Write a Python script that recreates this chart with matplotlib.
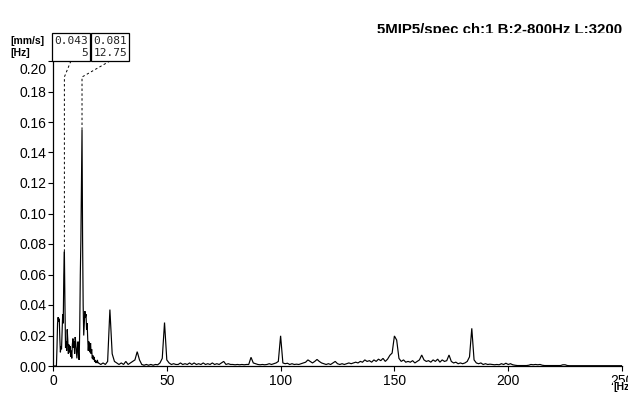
import numpy as np
import matplotlib
matplotlib.use("Agg")
import matplotlib.pyplot as plt
from matplotlib.patches import Rectangle
from matplotlib.transforms import Bbox, TransformedBbox

# ---------------- data ----------------
title = "5MIP5/spec ch:1 B:2-800Hz L:3200"
y_unit = "[mm/s]"
x_unit = "[Hz]"

# 0 .. 20 Hz, 0.25 Hz resolution
freq_low = np.arange(0, 20.001, 0.25)
amp_low = [
    0.000, 0.000, 0.000, 0.000, 0.000, 0.000,                      # 0 - 1.25
    0.000, 0.012, 0.028, 0.032, 0.029, 0.031, 0.018, 0.009,        # 1.5 - 3.25
    0.013, 0.011, 0.022, 0.034, 0.028, 0.060, 0.075, 0.040,        # 3.5 - 5.25
    0.012, 0.016, 0.010, 0.024, 0.017, 0.008, 0.014, 0.009,        # 5.5 - 7.25
    0.013, 0.006, 0.010, 0.005, 0.014, 0.018, 0.012, 0.016,        # 7.5 - 9.25
    0.008, 0.019, 0.015, 0.010, 0.005, 0.012, 0.016, 0.006,        # 9.5 - 11.25
    0.004, 0.025, 0.060, 0.083, 0.120, 0.155, 0.083, 0.040,        # 11.5 - 13.25
    0.020, 0.028, 0.036, 0.032, 0.034, 0.024, 0.028, 0.018,        # 13.5 - 15.25
    0.010, 0.016, 0.012, 0.009, 0.015, 0.008, 0.011, 0.005,        # 15.5 - 17.25
    0.007, 0.004, 0.006, 0.003, 0.004, 0.002, 0.003, 0.002,        # 17.5 - 19.25
    0.004, 0.002, 0.002,                                           # 19.5 - 20.0
]

# 21 .. 250 Hz, 1 Hz steps
freq_high = np.arange(21, 251, 1)
amp_high = [
    0.0010, 0.0020, 0.0010, 0.0030, 0.0370, 0.0080, 0.0030, 0.0020, 0.0010, 0.0020,  # 21-30
    0.0010, 0.0030, 0.0010, 0.0020, 0.0030, 0.0040, 0.0094, 0.0040, 0.0010, 0.0005,  # 31-40
    0.0010, 0.0005, 0.0010, 0.0005, 0.0010, 0.0008, 0.0020, 0.0050, 0.0285, 0.0040,  # 41-50
    0.0020, 0.0010, 0.0015, 0.0010, 0.0010, 0.0020, 0.0010, 0.0015, 0.0010, 0.0020,  # 51-60
    0.0010, 0.0020, 0.0010, 0.0015, 0.0010, 0.0020, 0.0010, 0.0015, 0.0010, 0.0020,  # 61-70
    0.0010, 0.0015, 0.0010, 0.0020, 0.0030, 0.0010, 0.0015, 0.0010, 0.0010, 0.0008,  # 71-80
    0.0010, 0.0008, 0.0010, 0.0008, 0.0010, 0.0010, 0.0057, 0.0020, 0.0015, 0.0010,  # 81-90
    0.0008, 0.0010, 0.0008, 0.0010, 0.0015, 0.0010, 0.0015, 0.0020, 0.0030, 0.0198,  # 91-100
    0.0020, 0.0015, 0.0018, 0.0010, 0.0015, 0.0010, 0.0012, 0.0010, 0.0015, 0.0020,  # 101-110
    0.0025, 0.0040, 0.0030, 0.0020, 0.0030, 0.0043, 0.0030, 0.0020, 0.0015, 0.0010,  # 111-120
    0.0015, 0.0010, 0.0020, 0.0030, 0.0015, 0.0010, 0.0015, 0.0010, 0.0015, 0.0020,  # 121-130
    0.0015, 0.0020, 0.0025, 0.0020, 0.0030, 0.0025, 0.0040, 0.0030, 0.0035, 0.0025,  # 131-140
    0.0040, 0.0030, 0.0045, 0.0035, 0.0050, 0.0030, 0.0045, 0.0070, 0.0085, 0.0197,  # 141-150
    0.0170, 0.0050, 0.0030, 0.0040, 0.0025, 0.0030, 0.0025, 0.0035, 0.0020, 0.0030,  # 151-160
    0.0040, 0.0072, 0.0040, 0.0030, 0.0035, 0.0025, 0.0040, 0.0030, 0.0045, 0.0025,  # 161-170
    0.0040, 0.0030, 0.0035, 0.0072, 0.0030, 0.0020, 0.0025, 0.0015, 0.0020, 0.0015,  # 171-180
    0.0020, 0.0030, 0.0060, 0.0247, 0.0040, 0.0020, 0.0015, 0.0020, 0.0010, 0.0015,  # 181-190
    0.0010, 0.0012, 0.0010, 0.0008, 0.0010, 0.0008, 0.0015, 0.0010, 0.0018, 0.0010,  # 191-200
    0.0015, 0.0008, 0.0005, 0.0003, 0.0003, 0.0003, 0.0003, 0.0003, 0.0005, 0.0010,  # 201-210
    0.0008, 0.0010, 0.0008, 0.0010, 0.0005, 0.0003, 0.0003, 0.0003, 0.0003, 0.0003,  # 211-220
    0.0003, 0.0003, 0.0003, 0.0008, 0.0008, 0.0003, 0.0002, 0.0002, 0.0002, 0.0002,  # 221-230
    0.0002, 0.0002, 0.0002, 0.0002, 0.0002, 0.0002, 0.0002, 0.0002, 0.0002, 0.0002,  # 231-240
    0.0002, 0.0002, 0.0002, 0.0002, 0.0002, 0.0002, 0.0002, 0.0002, 0.0002, 0.0002,  # 241-250
]

# cursor markers
marker_freqs = [5, 12.75]
marker_labels_f = ["5", "12.75"]
marker_labels_a = ["0.043", "0.081"]
marker_peaks = [0.075, 0.155]

x_ticks = [0, 50, 100, 150, 200, 250]
y_ticks = [0.00, 0.02, 0.04, 0.06, 0.08, 0.10, 0.12, 0.14, 0.16, 0.18, 0.20]

freq = np.concatenate([freq_low, freq_high])
amp = np.concatenate([np.array(amp_low[:len(freq_low)]), np.array(amp_high[:len(freq_high)])])

SANS = ["Liberation Sans", "DejaVu Sans"]

# ---------------- figure ----------------
W, H = 628, 396
fig = plt.figure(figsize=(W / 100, H / 100), dpi=100)
fig.patch.set_facecolor("white")

def fx(px):
    return px / W

def fy(py):
    return 1 - py / H

ax_l, ax_r, ax_t, ax_b = 53, 622, 61, 366
ax = fig.add_axes([fx(ax_l), fy(ax_b), (ax_r - ax_l) / W, (ax_b - ax_t) / H])

ax.plot(freq, amp, color="black", lw=0.85, solid_joinstyle="miter", zorder=3)

ax.set_xlim(0, 250)
ax.set_ylim(0, 0.20)
for s in ["top", "right"]:
    ax.spines[s].set_visible(False)
for s in ["left", "bottom"]:
    ax.spines[s].set_linewidth(0.9)
    ax.spines[s].set_color("black")

ax.set_xticks(x_ticks)
ax.set_xticklabels([str(t) for t in x_ticks])
ax.set_yticks(y_ticks)
ax.set_yticklabels([f"{t:.2f}" if t < 0.199 else "" for t in y_ticks])
ax.tick_params(axis="both", direction="out", length=3.3, width=0.8, colors="black",
               labelsize=10)
ax.tick_params(axis="y", pad=1.2)
ax.tick_params(axis="x", pad=2.5)
for lab in ax.get_xticklabels() + ax.get_yticklabels():
    lab.set_family(SANS)
    lab.set_clip_on(False)
# top tick label sits just below its tick in the reference
fig.text(fx(46.8), fy(62.5), f"{y_ticks[-1]:.2f}", fontsize=10, family=SANS,
         ha="right", va="top")

# unit labels
fig.text(fx(10), fy(41), y_unit, fontsize=7.5, fontweight="bold",
         family=SANS, ha="left", va="center")
fig.text(fx(10), fy(53), x_unit, fontsize=7.5, fontweight="bold",
         family=SANS, ha="left", va="center")
fig.text(fx(613), fy(387), x_unit, fontsize=7.5, fontweight="bold",
         family=SANS, ha="left", va="center",
         bbox=dict(facecolor="white", edgecolor="none", pad=0.3), zorder=5)

# title (bottom clipped as in reference)
t = fig.text(fx(622), fy(33.8), title, fontsize=10.8, fontweight="bold",
             family=SANS, ha="right", va="baseline")
t.set_clip_box(TransformedBbox(Bbox([[0, fy(33.3)], [1, 1]]), fig.transFigure))
t.set_clip_on(True)

# cursor boxes
boxes = [(52.3, 89.5), (91, 129)]
box_top, box_bot = 33.3, 61
for (bl, br), la, lf, f, pk in zip(boxes, marker_labels_a, marker_labels_f,
                                  marker_freqs, marker_peaks):
    fig.patches.append(Rectangle((fx(bl), fy(box_bot)), (br - bl) / W,
                                 (box_bot - box_top) / H, transform=fig.transFigure,
                                 facecolor="white", edgecolor="black", lw=0.9))
    fig.text(fx(br - 1.5), fy(41), la, fontsize=8, family="DejaVu Sans Mono",
             color="#222222", ha="right", va="center")
    fig.text(fx(br - 1.5), fy(53), lf, fontsize=8, family="DejaVu Sans Mono",
             color="#222222", ha="right", va="center")
    cx_px = (bl + br) / 2
    cx_data = (cx_px - ax_l) / (ax_r - ax_l) * 250
    bend = 0.20 - (77 - 61) / (ax_b - ax_t) * 0.20
    ax.plot([cx_data, f, f], [0.20, bend, pk], color="black", lw=0.7,
            linestyle=(0, (2.5, 2.5)), clip_on=False, zorder=4)

fig.savefig("out.png", dpi=100, facecolor="white")
